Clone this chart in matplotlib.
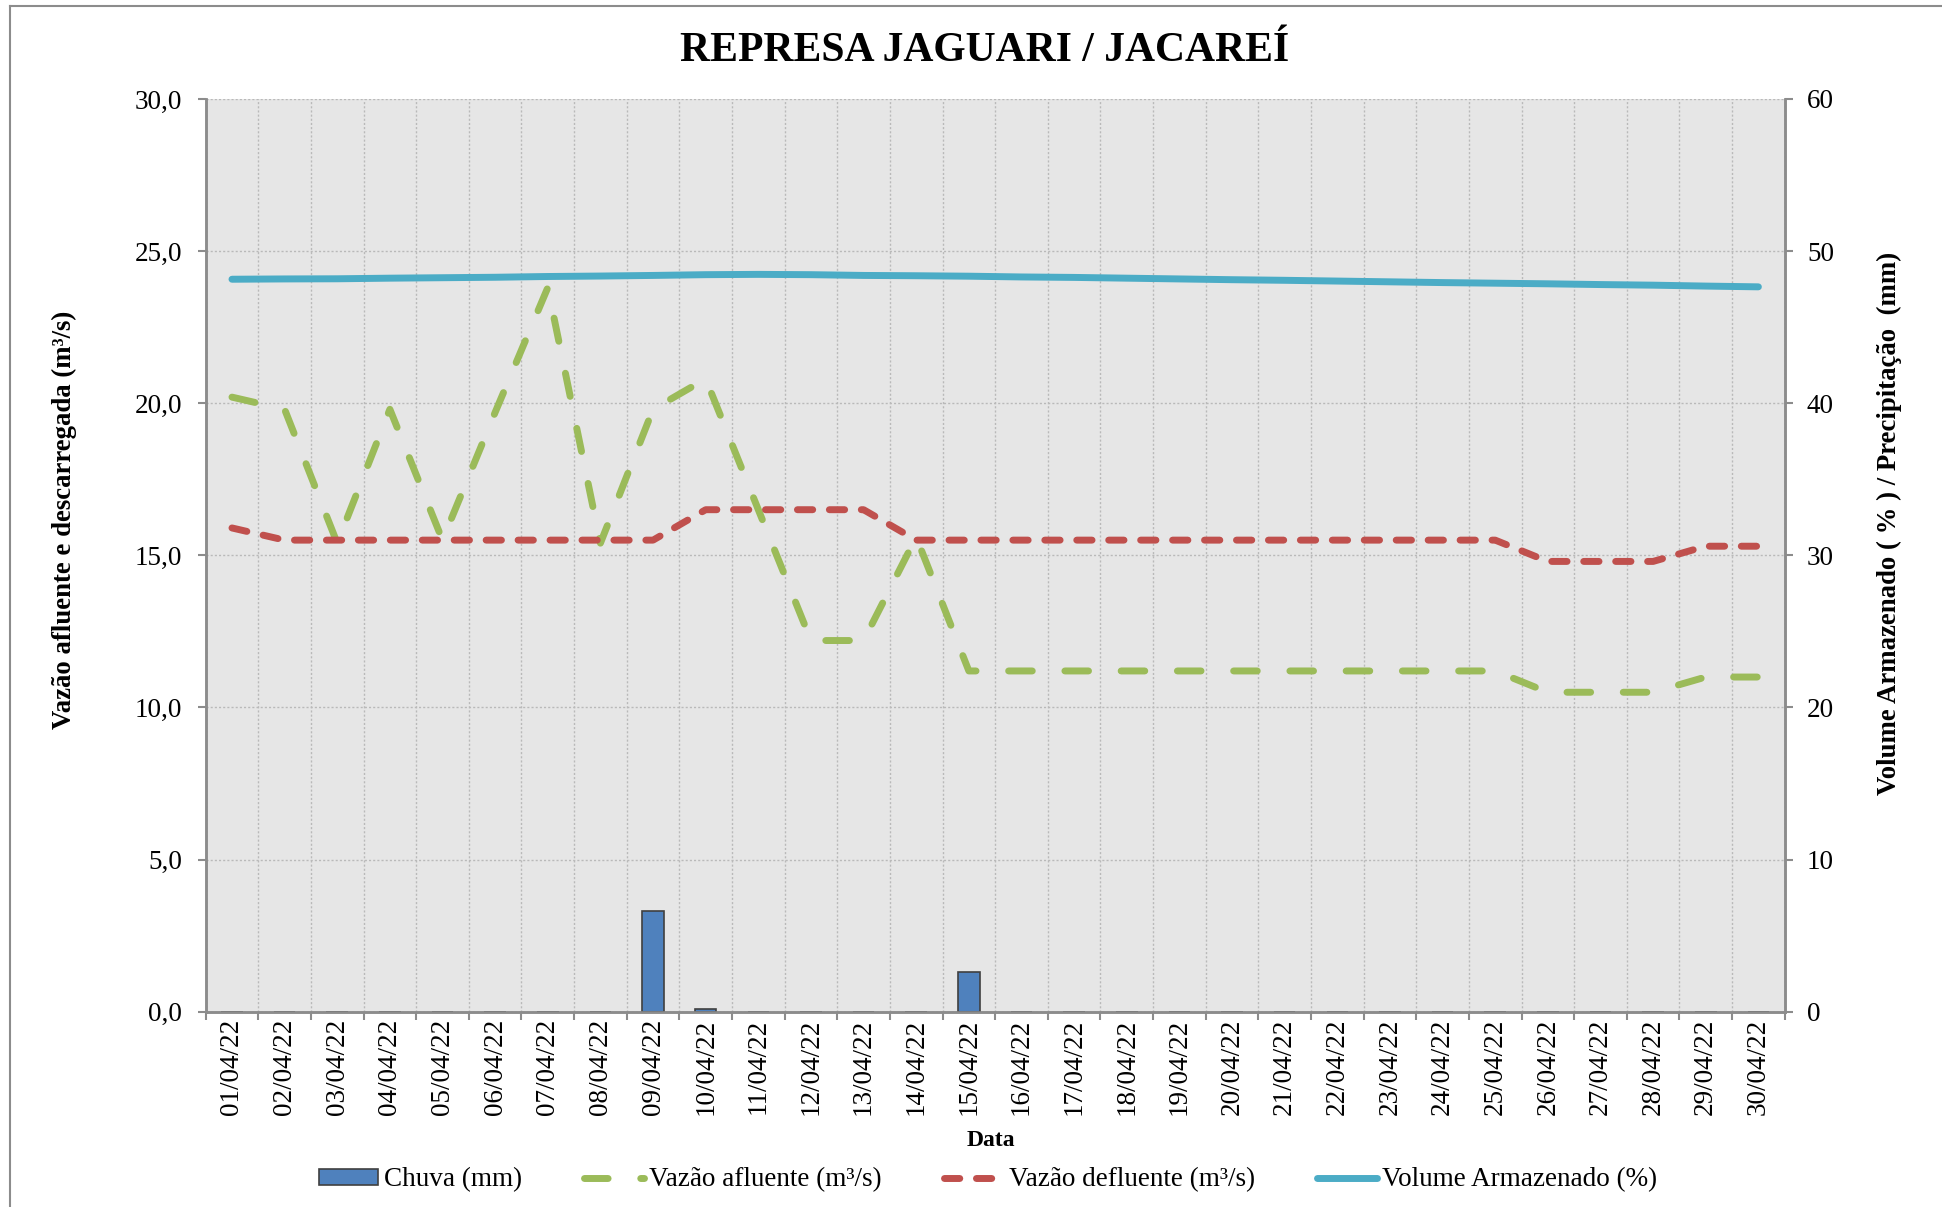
import numpy as np
import matplotlib
matplotlib.use('Agg')
import matplotlib.pyplot as plt
from matplotlib.lines import Line2D

plt.rcParams['font.family'] = ['Liberation Serif', 'DejaVu Serif']

datas = ['01/04/22', '02/04/22', '03/04/22', '04/04/22', '05/04/22', '06/04/22',
         '07/04/22', '08/04/22', '09/04/22', '10/04/22', '11/04/22', '12/04/22',
         '13/04/22', '14/04/22', '15/04/22', '16/04/22', '17/04/22', '18/04/22',
         '19/04/22', '20/04/22', '21/04/22', '22/04/22', '23/04/22', '24/04/22',
         '25/04/22', '26/04/22', '27/04/22', '28/04/22', '29/04/22', '30/04/22']

chuva = [0, 0, 0, 0, 0, 0, 0, 0, 6.6, 0.2, 0, 0, 0, 0, 2.6,
         0, 0, 0, 0, 0, 0, 0, 0, 0, 0, 0, 0, 0, 0, 0]
vazao_afluente = [20.2, 19.8, 15.4, 19.8, 15.5, 19.7, 23.8, 15.4, 19.8, 20.8,
                  16.5, 12.2, 12.2, 15.6, 11.2, 11.2, 11.2, 11.2, 11.2, 11.2,
                  11.2, 11.2, 11.2, 11.2, 11.2, 10.5, 10.5, 10.5, 11.0, 11.0]
vazao_defluente = [15.9, 15.5, 15.5, 15.5, 15.5, 15.5, 15.5, 15.5, 15.5, 16.5,
                   16.5, 16.5, 16.5, 15.5, 15.5, 15.5, 15.5, 15.5, 15.5, 15.5,
                   15.5, 15.5, 15.5, 15.5, 15.5, 14.8, 14.8, 14.8, 15.3, 15.3]
volume = [48.15, 48.17, 48.18, 48.22, 48.25, 48.28, 48.33, 48.36, 48.40, 48.45,
          48.47, 48.45, 48.40, 48.38, 48.35, 48.30, 48.27, 48.22, 48.17, 48.12,
          48.08, 48.03, 47.98, 47.93, 47.89, 47.85, 47.80, 47.76, 47.70, 47.65]

x = np.arange(len(datas))
fs = 19.5
grid_col = '#b9b9b9'
spine_col = '#8c8c8c'

fig = plt.figure(figsize=(19.42, 12.07), dpi=100)
ax = fig.add_axes([0.1059, 0.1618, 0.8131, 0.7562])
ax.set_facecolor('#e6e6e6')
ax2 = ax.twinx()

# chuva (eixo secundario)
bars = ax2.bar(x, chuva, 0.41, color='#4f81bd', edgecolor='#404040', linewidth=1.2,
               label='Chuva (mm)', zorder=2)

l1, = ax.plot(x, vazao_afluente, color='#9bbb59', lw=5, dashes=(3.4, 4.7),
              dash_capstyle='round', solid_capstyle='round', label='Vazão afluente (m³/s)', zorder=3)
l2, = ax.plot(x, vazao_defluente, color='#c0504d', lw=5, dashes=(2.2, 2.4),
              dash_capstyle='round', solid_capstyle='round', label='Vazão defluente (m³/s)', zorder=4)
l3, = ax2.plot(x, volume, color='#4bacc6', lw=5, solid_capstyle='round',
               label='Volume Armazenado (%)', zorder=5)

ax.set_xlim(-0.5, len(datas) - 0.5)
ax.set_ylim(0, 30)
ax2.set_ylim(0, 60)
ax.set_yticks(np.arange(0, 31, 5))
ax.set_yticklabels([f'{v:.1f}'.replace('.', ',') for v in np.arange(0, 31, 5)], fontsize=fs)
ax2.set_yticks(np.arange(0, 61, 10))
ax2.set_yticklabels([str(v) for v in range(0, 61, 10)], fontsize=fs)

ax.set_xticks(np.arange(-0.5, len(datas), 1))
ax.set_xticklabels([])
ax.set_xticks(x, minor=True)
ax.set_xticklabels(datas, minor=True, rotation=90, fontsize=fs, va='top')
ax.tick_params(axis='x', which='minor', length=0, pad=5)
ax.tick_params(axis='x', which='major', length=6, width=1.5, color=spine_col)
ax.tick_params(axis='y', length=6, width=1.5, color=spine_col, pad=11)
ax2.tick_params(axis='y', length=6, width=1.5, color=spine_col, pad=10)

ax.grid(True, axis='both', which='major', color=grid_col, lw=1, dashes=(1.5, 1.5))
ax.set_axisbelow(True)

for a in (ax, ax2):
    a.spines['top'].set_visible(False)
    for s in ('left', 'right', 'bottom'):
        a.spines[s].set_color(spine_col)
        a.spines[s].set_linewidth(1.8)

fig.text(985 / 1942, 1 - 51 / 1207, 'REPRESA JAGUARI / JACAREÍ', ha='center', va='center',
         fontsize=30, fontweight='bold')
fig.text(64 / 1942, 1 - 520 / 1207, 'Vazão afluente e descarregada (m³/s)', rotation=90,
         ha='center', va='center', fontsize=19.3, fontweight='bold')
fig.text(1889 / 1942, 1 - 523 / 1207, 'Volume Armazenado ( % ) / Precipitação  (mm)', rotation=90,
         ha='center', va='center', fontsize=19.3, fontweight='bold')
fig.text(991 / 1942, 1 - 1141 / 1207, 'Data', ha='center', va='center', fontsize=17, fontweight='bold')

fig.legend(handles=[bars, l1, l2, l3], loc='center', bbox_to_anchor=(988 / 1942, 1 - 1180 / 1207),
           ncol=4, frameon=False, fontsize=fs, handlelength=2.2, handleheight=0.55,
           handletextpad=0.2, columnspacing=2.3)

# borda do grafico
fig.add_artist(Line2D([10 / 1942, 10 / 1942], [0, 1 - 6 / 1207], color='#8c8c8c', lw=1.5,
                      transform=fig.transFigure))
fig.add_artist(Line2D([10 / 1942, 1], [1 - 6 / 1207, 1 - 6 / 1207], color='#8c8c8c', lw=1.5,
                      transform=fig.transFigure))

fig.savefig('out.png', dpi=100)
